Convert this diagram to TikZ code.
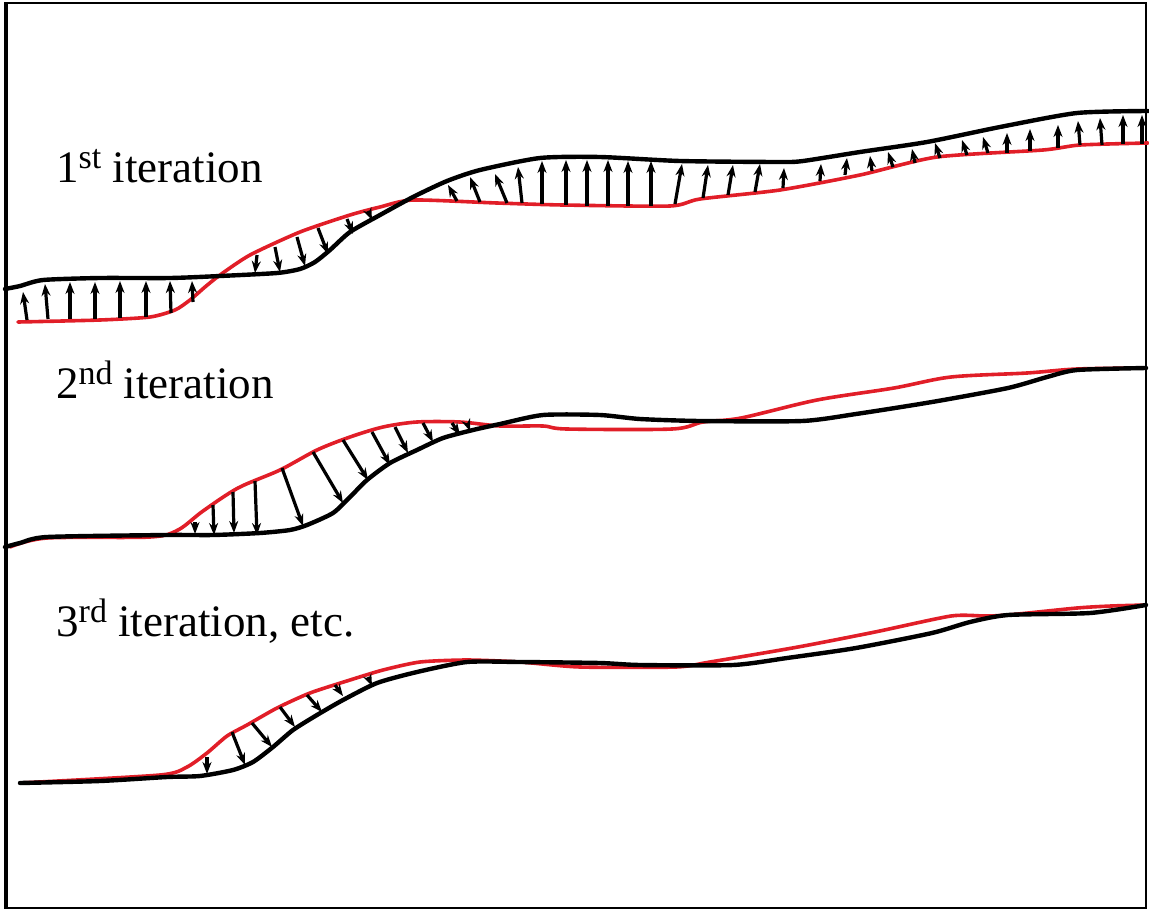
\documentclass[tikz,border=0pt]{standalone}
\usepackage{fontspec}
\setmainfont{Liberation Serif}
\usetikzlibrary{arrows.meta}
\definecolor{curvered}{RGB}{225,30,40}
\tikzset{
  oldcurve/.style={line width=4.4pt, black, line join=round, line cap=round},
  newcurve/.style={line width=3.6pt, curvered, line join=round, line cap=round},
  vec/.style={line width=3.2pt, black, -{Stealth[length=12pt,width=9pt]}},
  itlabel/.style={anchor=base west, inner sep=0pt, font=\fontsize{45}{50}\selectfont},
}
\newcommand{\supr}[1]{\raisebox{14pt}{\fontsize{34}{34}\selectfont #1}}
\begin{document}
\begin{tikzpicture}[x=1pt,y=-1pt]
\useasboundingbox (0,0) rectangle (1149,911);
% frame
\draw[line width=2.8pt] (5,3) rectangle (1146,908);
\draw[line width=4.5pt] (6,2) -- (6,909);

% labels
\node[itlabel] (l1) at (56,182) {1\supr{st} iteration};
\node[itlabel] (l2) at (56,398) {2\supr{nd} iteration};
\node[itlabel] (l3) at (56,636) {3\supr{rd} iteration, etc.};

% ---------- panel 1 ----------
\draw[newcurve] plot[smooth,tension=0.4] coordinates {(18,322) (100,320) (150,317) (175,310) (190,300) (205,287) (220,275) (250,255) (300,232) (350,215) (380,207) (413,200) (497,203) (563,205) (670,206) (700,199) (780,190) (860,175) (937,157) (1043,150) (1080,145) (1148,143)};
\draw[oldcurve] plot[smooth,tension=0.4] coordinates {(5,289) (20,286) (43,280) (100,278) (170,278) (220,276) (277,273) (300,269) (315,262) (330,250) (350,232) (380,215) (413,197) (447,181) (480,170) (540,158) (600,157) (680,161) (780,162) (803,161) (860,152) (927,142) (1000,127) (1077,113) (1148,111)};
\foreach \xa/\ya/\xb/\yb in {
  27/320/23/292, 48/319/45/284, 70/319/70/282, 95/319/95/282,
  120/318/120/281, 146/317/146/281, 171/313/170/281, 193/302/192/281,
  257/255/255/273, 275/247/280/272, 297/237/305/266, 318/228/328/254,
  347/219/353/234, 368/211/372/220,
  457/201/448/185, 480/202/470/177, 507/203/495/174, 522/203/518/167,
  542/204/542/161, 566/205/566/160, 587/206/587/160, 608/206/608/160,
  628/206/628/161, 651/206/651/161, 675/204/682/164, 703/198/708/165,
  728/195/733/165, 755/192/760/164,
  783/188/784/168, 820/181/821/164, 845/175/847/158, 872/171/870/156,
  893/167/888/152, 915/163/912/149, 940/158/935/143, 967/155/962/140,
  988/153/983/137, 1007/153/1007/133, 1030/151/1030/129, 1058/148/1058/125,
  1080/145/1078/121, 1102/145/1100/118, 1123/144/1123/115, 1142/144/1142/115}
  {\draw[vec] (\xa,\ya) -- (\xb,\yb);}

% ---------- panel 2 ----------
\draw[newcurve] plot[smooth,tension=0.5] coordinates {(10,547) (47,538) (150,537) (178,530) (203,511) (238,488) (280,470) (317,450) (350,437) (383,427) (417,422) (460,422) (500,426) (543,426) (567,429) (672,429) (703,422) (741,418) (817,400) (894,388) (951,377) (1027,373) (1077,369) (1146,368)};
\draw[oldcurve] plot[smooth,tension=0.4] coordinates {(5,547) (20,543) (47,537) (167,535) (213,535) (260,533) (290,530) (307,525) (333,513) (350,497) (367,480) (390,463) (417,450) (443,438) (473,430) (500,424) (543,415) (600,415) (640,419) (700,421) (802,421) (856,414) (932,402) (1008,388) (1047,377) (1077,370) (1146,368)};
\foreach \xa/\ya/\xb/\yb in {
  195/522/195/534, 213/505/214/535, 233/492/234/533, 255/481/257/535,
  282/468/303/526, 313/452/343/503, 343/440/368/480, 372/432/390/465,
  395/427/408/453, 423/423/433/442, 452/423/460/435, 467/423/470/431}
  {\draw[vec] (\xa,\ya) -- (\xb,\yb);}

% ---------- panel 3 ----------
\draw[newcurve] plot[smooth,tension=0.4] coordinates {(20,783) (160,775) (187,767) (207,753) (227,736) (247,725) (277,708) (310,693) (350,680) (383,670) (420,662) (467,660) (520,662) (580,667) (676,667) (710,662) (798,647) (875,632) (951,616) (985,616) (1008,615) (1077,608) (1111,606) (1146,605)};
\draw[oldcurve] plot[smooth,tension=0.4] coordinates {(20,783) (100,781) (167,777) (200,776) (233,770) (253,762) (273,747) (293,730) (317,715) (343,700) (377,683) (417,672) (467,662) (520,662) (600,663) (640,665) (733,665) (787,658) (856,648) (932,633) (970,622) (1008,615) (1090,613) (1146,605)};
\foreach \xa/\ya/\xb/\yb in {
  207/757/207/774, 232/732/245/765, 252/723/272/747, 280/707/295/727,
  307/695/322/712, 335/685/343/696, 368/677/372/686}
  {\draw[vec] (\xa,\ya) -- (\xb,\yb);}
\end{tikzpicture}
\end{document}
